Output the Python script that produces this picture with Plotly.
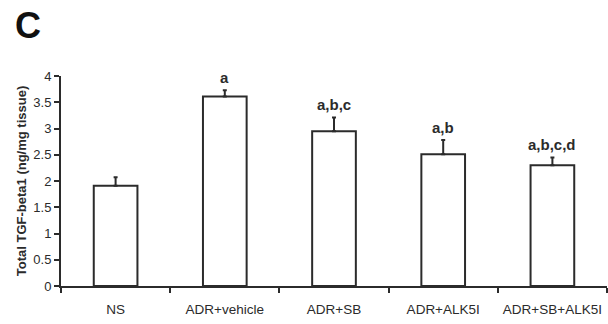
import plotly.graph_objects as go

categories = ["NS", "ADR+vehicle", "ADR+SB", "ADR+ALK5I", "ADR+SB+ALK5I"]
means = [1.91, 3.61, 2.95, 2.51, 2.30]
errors = [0.16, 0.12, 0.26, 0.27, 0.15]
sig_labels = ["", "a", "a,b,c", "a,b", "a,b,c,d"]
y_ticks = [0, 0.5, 1, 1.5, 2, 2.5, 3, 3.5, 4]
y_tick_text = ["0", "0.5", "1", "1.5", "2", "2.5", "3", "3.5", "4"]

FONT = "Liberation Sans, Arial, sans-serif"
INK = "#2b2b2b"

fig = go.Figure()
fig.add_trace(go.Bar(
    x=categories, y=means, width=0.4,
    marker=dict(color="white", line=dict(color=INK, width=2)),
    error_y=dict(type="data", array=errors, arrayminus=[0]*len(errors), symmetric=False,
                 color=INK, thickness=2, width=2),
    showlegend=False,
))

for c, m, e, s in zip(categories, means, errors, sig_labels):
    if s:
        fig.add_annotation(x=c, y=m + e, text="<b>" + s + "</b>", showarrow=False,
                           yanchor="bottom", yshift=2,
                           font=dict(family=FONT, size=15, color=INK))

fig.add_annotation(xref="paper", yref="paper", x=(13 - 61) / 546, y=(286 - 26) / 210,
                   xanchor="left", yanchor="middle",
                   text="<b>C</b>", showarrow=False,
                   font=dict(family=FONT, size=36, color="#111"))

fig.update_layout(
    width=608, height=324,
    margin=dict(l=61, r=1, t=76, b=38),
    paper_bgcolor="white", plot_bgcolor="white",
    font=dict(family=FONT, size=12, color=INK),
    bargap=0.6,
)
fig.update_xaxes(
    type="category", range=[-0.5, 4.5], tickson="boundaries",
    ticks="outside", ticklen=5, tickwidth=2, tickcolor=INK,
    showline=True, linecolor=INK, linewidth=2, showgrid=False,
    tickfont=dict(family=FONT, size=13.5, color=INK),
    ticklabelstandoff=10,
)
fig.update_yaxes(
    range=[0, 4], tickvals=y_ticks, ticktext=y_tick_text,
    ticks="outside", ticklen=5, tickwidth=2, tickcolor=INK,
    showline=True, linecolor=INK, linewidth=2, showgrid=False, zeroline=False,
    tickfont=dict(family=FONT, size=13, color=INK),
    title=dict(text="<b>Total TGF-beta1 (ng/mg tissue)</b>",
               font=dict(family=FONT, size=13, color=INK), standoff=4),
)

fig.write_html("out.html", config={"displayModeBar": False},
               post_script="document.body.style.margin='0';document.body.style.overflow='hidden';")
